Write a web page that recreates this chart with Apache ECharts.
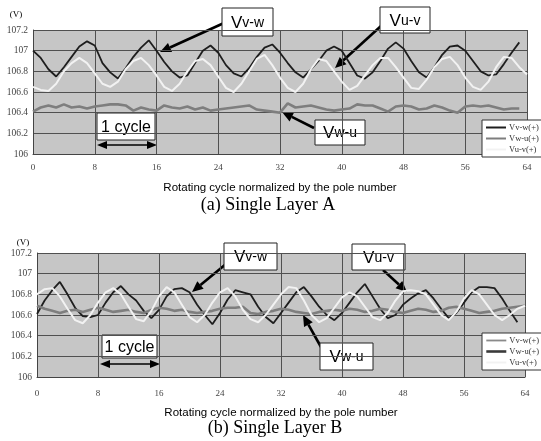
<!DOCTYPE html>
<html lang="en">
<head>
<meta charset="UTF-8">
<script src="https://cdn.jsdelivr.net/npm/echarts@6.0.0/dist/echarts.min.js"></script>
<style>
    html, body { margin: 0; overflow: hidden; background: #fff; }
    #viewport { width: 541px; height: 441px; }
</style>
</head>
<body>
<div id="viewport"></div>
<script>
// one sample per rotating cycle step (0, 1, 2 ...)
var seriesNames = ['Vv-w(+)', 'Vw-u(+)', 'Vu-v(+)'];

// (a) Single Layer A
var vvwA = [107.00, 106.93, 106.82, 106.75, 106.84, 106.94, 107.04, 107.09, 107.05, 106.88,
    106.79, 106.73, 106.83, 106.94, 107.03, 107.10, 107.00, 106.89, 106.80, 106.74,
    106.76, 106.88, 107.00, 107.05, 106.98, 106.86, 106.78, 106.75, 106.83, 106.94,
    107.03, 107.06, 106.98, 106.88, 106.79, 106.74, 106.82, 106.90, 107.00, 107.04,
    107.00, 106.88, 106.76, 106.73, 106.79, 106.90, 107.02, 107.08, 107.02, 106.90,
    106.79, 106.74, 106.84, 106.96, 107.04, 107.05, 107.00, 106.90, 106.80, 106.76,
    106.77, 106.87, 106.98, 107.08];
var vwuA = [106.41, 106.45, 106.47, 106.45, 106.48, 106.45, 106.46, 106.44, 106.46, 106.47,
    106.48, 106.48, 106.47, 106.42, 106.45, 106.43, 106.42, 106.47, 106.45, 106.44,
    106.46, 106.43, 106.45, 106.42, 106.43, 106.44, 106.45, 106.46, 106.47, 106.43,
    106.42, 106.41, 106.40, 106.49, 106.45, 106.46, 106.47, 106.45, 106.43, 106.42,
    106.43, 106.44, 106.48, 106.47, 106.47, 106.44, 106.41, 106.46, 106.47, 106.46,
    106.43, 106.44, 106.47, 106.45, 106.42, 106.40, 106.46, 106.47, 106.46, 106.47,
    106.45, 106.43, 106.44, 106.44];
var vuvA = [106.65, 106.62, 106.61, 106.68, 106.80, 106.88, 106.93, 106.88, 106.78, 106.68,
    106.65, 106.70, 106.82, 106.90, 106.93, 106.86, 106.76, 106.65, 106.61, 106.68,
    106.80, 106.90, 106.92, 106.86, 106.75, 106.64, 106.60, 106.68, 106.80, 106.92,
    106.96, 106.86, 106.74, 106.64, 106.60, 106.68, 106.82, 106.92, 106.90, 106.80,
    106.70, 106.62, 106.66, 106.76, 106.86, 106.93, 106.93, 106.84, 106.74, 106.64,
    106.63, 106.72, 106.84, 106.92, 106.94, 106.86, 106.74, 106.65, 106.62, 106.70,
    106.84, 106.94, 106.93, 106.84, 106.77];

// (b) Single Layer B
var vvwB = [106.61, 106.74, 106.84, 106.92, 106.80, 106.67, 106.59, 106.58, 106.60, 106.72,
    106.82, 106.88, 106.80, 106.74, 106.64, 106.57, 106.65, 106.78, 106.85, 106.86,
    106.82, 106.70, 106.60, 106.51, 106.62, 106.75, 106.84, 106.82, 106.80, 106.68,
    106.58, 106.52, 106.62, 106.72, 106.82, 106.87, 106.78, 106.68, 106.60, 106.55,
    106.62, 106.72, 106.82, 106.90, 106.78, 106.66, 106.57, 106.60, 106.70, 106.76,
    106.81, 106.84, 106.76, 106.66, 106.57, 106.62, 106.72, 106.82, 106.87, 106.87,
    106.86, 106.76, 106.64, 106.53];
var vwuB = [106.69, 106.66, 106.64, 106.62, 106.64, 106.65, 106.63, 106.65, 106.67, 106.65,
    106.63, 106.64, 106.65, 106.63, 106.62, 106.65, 106.67, 106.66, 106.64, 106.65,
    106.63, 106.62, 106.63, 106.64, 106.66, 106.67, 106.67, 106.68, 106.62, 106.61,
    106.63, 106.64, 106.66, 106.65, 106.63, 106.62, 106.61, 106.63, 106.64, 106.65,
    106.64, 106.66, 106.65, 106.63, 106.64, 106.66, 106.65, 106.63, 106.62, 106.64,
    106.66, 106.65, 106.63, 106.64, 106.67, 106.68, 106.66, 106.64, 106.62, 106.63,
    106.64, 106.66, 106.67, 106.68, 106.69];
var vuvB = [106.80, 106.85, 106.86, 106.78, 106.66, 106.55, 106.52, 106.60, 106.72, 106.82,
    106.86, 106.80, 106.68, 106.56, 106.54, 106.64, 106.78, 106.87, 106.82, 106.70,
    106.58, 106.53, 106.60, 106.72, 106.82, 106.86, 106.78, 106.65, 106.56, 106.53,
    106.60, 106.70, 106.80, 106.87, 106.86, 106.74, 106.60, 106.53, 106.57, 106.67,
    106.77, 106.82, 106.78, 106.68, 106.58, 106.55, 106.62, 106.74, 106.83, 106.84,
    106.83, 106.80, 106.70, 106.60, 106.55, 106.63, 106.76, 106.84, 106.80, 106.70,
    106.60, 106.55, 106.60, 106.66, 106.69];

var lineColors = ['#1e1e1e', '#7e7e7e', '#f2f2f2'];
var lineWidths = [1.8, 2.6, 2.0];

function pairs(arr) {
    return arr.map(function (v, i) { return [i, v]; });
}

function makeSeries(list, idx) {
    return list.map(function (arr, k) {
        return {
            name: seriesNames[k],
            type: 'line',
            xAxisIndex: idx,
            yAxisIndex: idx,
            symbol: 'none',
            animation: false,
            data: pairs(arr),
            lineStyle: { color: lineColors[k], width: lineWidths[k] },
            itemStyle: { color: lineColors[k] }
        };
    });
}

function xAxisOpt(idx, gap, margin) {
    return {
        gridIndex: idx,
        type: 'value',
        min: 0, max: 64, interval: 8,
        axisLine: { show: true, lineStyle: { color: '#444', width: 1 } },
        axisTick: { show: false },
        splitLine: { show: true, lineStyle: { color: '#505050', width: 1 } },
        axisLabel: { margin: margin, fontFamily: 'Liberation Serif', fontSize: 9, color: '#444' },
        name: 'Rotating cycle normalized by the pole number',
        nameLocation: 'middle',
        nameGap: gap,
        nameTextStyle: { fontFamily: 'Liberation Sans', fontSize: 11.5, color: '#000' }
    };
}

function yAxisOpt(idx) {
    return {
        gridIndex: idx,
        type: 'value',
        min: 106, max: 107.2, interval: 0.2,
        axisLine: { show: true, lineStyle: { color: '#444', width: 1 } },
        axisTick: { show: false },
        splitLine: { show: true, lineStyle: { color: '#505050', width: 1 } },
        axisLabel: { margin: 5, fontFamily: 'Liberation Serif', fontSize: 9.5, color: '#444' }
    };
}

function legendOpt(top, overrides) {
    return {
        orient: 'vertical',
        left: 482, top: top,
        itemWidth: 20, itemHeight: 6, itemGap: 2,
        padding: [3, 4, 3, 3],
        backgroundColor: '#fff',
        borderColor: '#333', borderWidth: 1, borderRadius: 0,
        itemStyle: { opacity: 0 },
        textStyle: { fontFamily: 'Liberation Serif', fontSize: 8.5, color: '#333', padding: [0, 0, 0, -2] },
        data: seriesNames.map(function (n, k) {
            var d = { name: n };
            if (overrides) d.lineStyle = { color: overrides[k], width: lineWidths[k] };
            return d;
        })
    };
}

// callout box with label
function callout(x, y, w, h, big, small, fs) {
    var rich = { a: { fontFamily: 'Liberation Sans', fontSize: fs || 17, fill: '#000' },
                 b: { fontFamily: 'Liberation Sans', fontSize: (fs || 17) - 3, fill: '#000' } };
    return {
        type: 'group', z: 100,
        children: [
            { type: 'rect', shape: { x: x, y: y, width: w, height: h },
              style: { fill: '#fff', stroke: '#222', lineWidth: 1 } },
            { type: 'text', x: x + w / 2, y: y + h / 2 + 1,
              style: { text: '{a|' + big + '}{b|' + small + '}', rich: rich, align: 'center', verticalAlign: 'middle' } }
        ]
    };
}

function arrowHead(x1, y1, x2, y2, len, half) {
    var a = Math.atan2(y2 - y1, x2 - x1);
    var bx = x2 - len * Math.cos(a), by = y2 - len * Math.sin(a);
    var px = -Math.sin(a) * half, py = Math.cos(a) * half;
    return { base: [bx, by], pts: [[x2, y2], [bx + px, by + py], [bx - px, by - py]] };
}

function arrow(x1, y1, x2, y2) {
    var h = arrowHead(x1, y1, x2, y2, 11, 5);
    return {
        type: 'group', z: 100,
        children: [
            { type: 'line', shape: { x1: x1, y1: y1, x2: h.base[0], y2: h.base[1] },
              style: { stroke: '#000', lineWidth: 2.6 } },
            { type: 'polygon', shape: { points: h.pts }, style: { fill: '#000' } }
        ]
    };
}

function doubleArrow(x1, x2, y) {
    var r = arrowHead(x1, y, x2, y, 10, 4);
    var l = arrowHead(x2, y, x1, y, 10, 4);
    return {
        type: 'group', z: 100,
        children: [
            { type: 'line', shape: { x1: l.base[0], y1: y, x2: r.base[0], y2: y },
              style: { stroke: '#000', lineWidth: 1.5 } },
            { type: 'polygon', shape: { points: r.pts }, style: { fill: '#000' } },
            { type: 'polygon', shape: { points: l.pts }, style: { fill: '#000' } }
        ]
    };
}

function plainText(x, y, text, font, align) {
    return { type: 'text', x: x, y: y, z: 100,
             style: { text: text, font: font, fill: '#000', align: align || 'center', verticalAlign: 'middle' } };
}

var myChart = echarts.init(document.getElementById('viewport'));

var option = {
    animation: false,
    backgroundColor: '#fff',
    grid: [
        { left: 33, top: 30, width: 494, height: 124, show: true, backgroundColor: '#c6c6c6', borderWidth: 0 },
        { left: 37, top: 253, width: 488, height: 124, show: true, backgroundColor: '#c6c6c6', borderWidth: 0 }
    ],
    xAxis: [xAxisOpt(0, 28, 9), xAxisOpt(1, 30, 12)],
    yAxis: [yAxisOpt(0), yAxisOpt(1)],
    legend: [
        legendOpt(120),
        legendOpt(333, ['#8a8a8a', '#3a3a3a', '#f2f2f2'])
    ],
    series: makeSeries([vvwA, vwuA, vuvA], 0).concat(makeSeries([vvwB, vwuB, vuvB], 1)),
    graphic: [
        plainText(16, 15, '(V)', '9px "Liberation Serif"'),
        plainText(23, 243, '(V)', '9px "Liberation Serif"'),
        plainText(268, 205, '(a) Single Layer A', '18px "Liberation Serif"'),
        plainText(275, 428, '(b) Single Layer B', '18px "Liberation Serif"'),

        // top chart callouts
        arrow(224, 23, 160, 52),
        callout(222, 8, 51, 28, 'V', 'v-w'),
        arrow(381, 26, 335, 68),
        callout(380, 7, 50, 26, 'V', 'u-v'),
        arrow(314, 128, 282, 112),
        callout(315, 120, 50, 25, 'V', 'w-u'),
        callout(97, 113, 58, 27, '1 cycle', '', 16),
        doubleArrow(97, 157, 145),

        // bottom chart callouts
        arrow(226, 264, 192, 292),
        callout(224, 243, 53, 27, 'V', 'v-w'),
        arrow(383, 270, 407, 292),
        callout(352, 244, 53, 26, 'V', 'u-v'),
        arrow(321, 347, 303, 315),
        callout(320, 343, 53, 27, 'V', 'w-u'),
        callout(102, 335, 55, 23, '1 cycle', '', 16),
        doubleArrow(100, 160, 364)
    ]
};

myChart.setOption(option);
</script>
</body>
</html>
